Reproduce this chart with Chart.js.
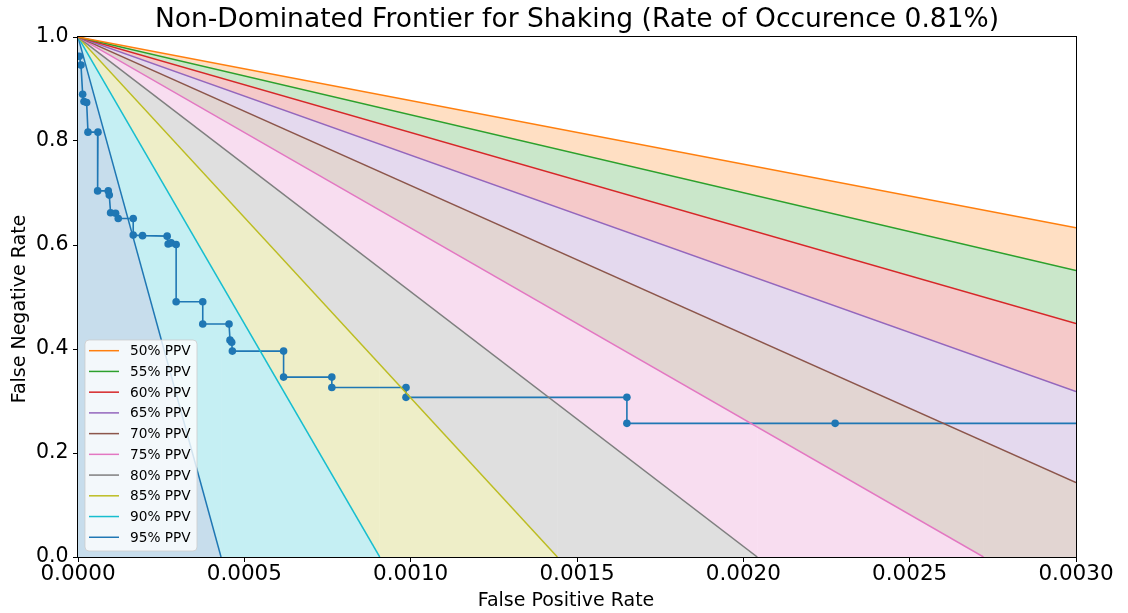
<!DOCTYPE html>
<html>
<head>
<meta charset="utf-8">
<title>Non-Dominated Frontier for Shaking</title>
<script src="https://cdn.jsdelivr.net/npm/chart.js@4/dist/chart.umd.min.js"></script>
<style>
  html, body { margin: 0; padding: 0; background: #fff; }
  #wrap { width: 1128px; height: 613px; position: relative; }
</style>
</head>
<body>
<div id="wrap"><canvas id="chart" width="1128" height="613"></canvas></div>
<script>
// Non-dominated frontier: false positive rate vs false negative rate
const frontierFPR = [
  0.000004, 0.000009, 0.000014, 0.000018, 0.000026, 0.000030, 0.000060,
  0.000059, 0.000091, 0.000094, 0.000098, 0.000113, 0.000121, 0.000166,
  0.000166, 0.000194, 0.000268, 0.000271, 0.000280, 0.000295, 0.000295,
  0.000375, 0.000375, 0.000454, 0.000457, 0.000462, 0.000464, 0.000618,
  0.000618, 0.000763, 0.000763, 0.000986, 0.000986, 0.001650, 0.001650,
  0.002276, 0.003400
];
const frontierFNR = [
  0.963, 0.946, 0.890, 0.876, 0.874, 0.817, 0.817,
  0.704, 0.704, 0.696, 0.662, 0.661, 0.651, 0.651,
  0.619, 0.618, 0.617, 0.602, 0.604, 0.601, 0.491,
  0.491, 0.448, 0.448, 0.417, 0.413, 0.396, 0.396,
  0.346, 0.346, 0.326, 0.326, 0.307, 0.307, 0.257,
  0.257, 0.257
];

// Iso-PPV lines: each runs from (0, 1) to the end point below
const ppvLabels = ['50% PPV', '55% PPV', '60% PPV', '65% PPV', '70% PPV',
                   '75% PPV', '80% PPV', '85% PPV', '90% PPV', '95% PPV'];
const ppvEndFPR = [0.003, 0.003, 0.003, 0.003, 0.003,
                   0.002722, 0.002042, 0.001441, 0.000907, 0.000430];
const ppvEndFNR = [0.633, 0.551, 0.449, 0.318, 0.143, 0, 0, 0, 0, 0];

// Axis ticks
const xTicks = [0, 0.0005, 0.0010, 0.0015, 0.0020, 0.0025, 0.0030];
const yTicks = [0, 0.2, 0.4, 0.6, 0.8, 1.0];

const chartTitle = 'Non-Dominated Frontier for Shaking (Rate of Occurence 0.81%)';
const xTitle = 'False Positive Rate';
const yTitle = 'False Negative Rate';

const X_MAX = 0.003;
const ppvColors = ['#ff7f0e', '#2ca02c', '#d62728', '#9467bd', '#8c564b',
                   '#e377c2', '#7f7f7f', '#bcbd22', '#17becf', '#1f77b4'];
const frontierColor = '#1f77b4';
const FONT = '"DejaVu Sans", "Liberation Sans", sans-serif';

function withAlpha(hex, a) {
  const n = parseInt(hex.slice(1), 16);
  return `rgba(${(n >> 16) & 255},${(n >> 8) & 255},${n & 255},${a})`;
}

const datasets = ppvLabels.map((label, i) => {
  const pts = [{ x: 0, y: 1 }, { x: ppvEndFPR[i], y: ppvEndFNR[i] }];
  // lines that reach FNR = 0 continue along the bottom edge so the bands close
  if (ppvEndFPR[i] < X_MAX) pts.push({ x: X_MAX, y: 0 });
  return {
    label,
    data: pts,
    borderColor: ppvColors[i],
    backgroundColor: withAlpha(ppvColors[i], 0.25),
    borderWidth: 1.5,
    pointRadius: 0,
    pointHoverRadius: 0,
    tension: 0,
    fill: i < ppvLabels.length - 1 ? '+1' : 'origin',
    segment: {
      borderColor: ctx => (ctx.p0.parsed.y === 0 && ctx.p1.parsed.y === 0) ? 'rgba(0,0,0,0)' : undefined
    }
  };
});

datasets.push({
  label: 'Frontier',
  data: frontierFPR.map((x, i) => ({ x, y: frontierFNR[i] })),
  borderColor: frontierColor,
  backgroundColor: frontierColor,
  pointBackgroundColor: frontierColor,
  pointBorderColor: frontierColor,
  borderWidth: 1.6,
  pointRadius: 3.8,
  pointBorderWidth: 0,
  tension: 0,
  fill: false
});

// Frame on all four sides, titles and an in-axes legend
const framePlugin = {
  id: 'frameAndLegend',
  afterDatasetsDraw(chart) {
    const { ctx, chartArea: a } = chart;
    const cx = (a.left + a.right) / 2;
    ctx.save();
    ctx.strokeStyle = '#000';
    ctx.lineWidth = 1;
    ctx.strokeRect(Math.round(a.left) - 0.5, Math.round(a.top) - 0.5,
                   Math.round(a.right - a.left) + 1, Math.round(a.bottom - a.top) + 1);

    // chart title
    ctx.fillStyle = '#000';
    ctx.font = '26.5px ' + FONT;
    ctx.textAlign = 'center';
    ctx.textBaseline = 'middle';
    ctx.fillText(chartTitle, cx, 20);

    // axis titles
    ctx.font = '19px ' + FONT;
    ctx.textBaseline = 'alphabetic';
    ctx.fillText(xTitle, cx - 11, 606);
    ctx.save();
    ctx.translate(24.5, (a.top + a.bottom) / 2 + 12);
    ctx.rotate(-Math.PI / 2);
    ctx.fillText(yTitle, 0, 0);
    ctx.restore();

    // legend box
    const bx = 85, by = 340, bw = 112, bh = 211, r = 4;
    ctx.beginPath();
    ctx.moveTo(bx + r, by);
    ctx.arcTo(bx + bw, by, bx + bw, by + bh, r);
    ctx.arcTo(bx + bw, by + bh, bx, by + bh, r);
    ctx.arcTo(bx, by + bh, bx, by, r);
    ctx.arcTo(bx, by, bx + bw, by, r);
    ctx.closePath();
    ctx.fillStyle = 'rgba(255,255,255,0.8)';
    ctx.fill();
    ctx.strokeStyle = 'rgba(204,204,204,0.8)';
    ctx.lineWidth = 1;
    ctx.stroke();

    ctx.font = '13.7px ' + FONT;
    ctx.textBaseline = 'middle';
    ctx.textAlign = 'left';
    ppvLabels.forEach((label, i) => {
      const y = 350.7 + i * 20.73;
      ctx.strokeStyle = ppvColors[i];
      ctx.lineWidth = 1.5;
      ctx.beginPath();
      ctx.moveTo(89, y);
      ctx.lineTo(119, y);
      ctx.stroke();
      ctx.fillStyle = '#000';
      ctx.fillText(label, 130, y + 1);
    });
    ctx.restore();
  }
};

new Chart(document.getElementById('chart'), {
  type: 'line',
  data: { datasets },
  options: {
    responsive: false,
    animation: false,
    events: [],
    layout: { padding: { left: 0, right: 52, top: 37, bottom: 0 } },
    plugins: {
      legend: { display: false },
      tooltip: { enabled: false },
      filler: { drawTime: 'beforeDatasetsDraw' },
      title: { display: false }
    },
    scales: {
      x: {
        type: 'linear',
        min: 0,
        max: X_MAX,
        afterBuildTicks: s => { s.ticks = xTicks.map(v => ({ value: v })); },
        afterFit: s => { s.height = 56; },
        ticks: {
          color: '#000',
          font: { family: FONT, size: 21.5 },
          padding: 0,
          maxRotation: 0,
          autoSkip: false,
          callback: v => Number(v).toFixed(4)
        },
        grid: { drawOnChartArea: false, drawTicks: true, tickLength: 5, tickColor: '#000', tickWidth: 1 },
        border: { display: false },
        title: { display: false }
      },
      y: {
        type: 'linear',
        min: 0,
        max: 1,
        afterBuildTicks: s => { s.ticks = yTicks.map(v => ({ value: v })); },
        afterFit: s => { s.width = 78; },
        ticks: {
          color: '#000',
          font: { family: FONT, size: 20.5 },
          padding: 4.5,
          callback: v => Number(v).toFixed(1)
        },
        grid: { drawOnChartArea: false, drawTicks: true, tickLength: 5, tickColor: '#000', tickWidth: 1 },
        border: { display: false },
        title: { display: false }
      }
    }
  },
  plugins: [framePlugin]
});
</script>
</body>
</html>
